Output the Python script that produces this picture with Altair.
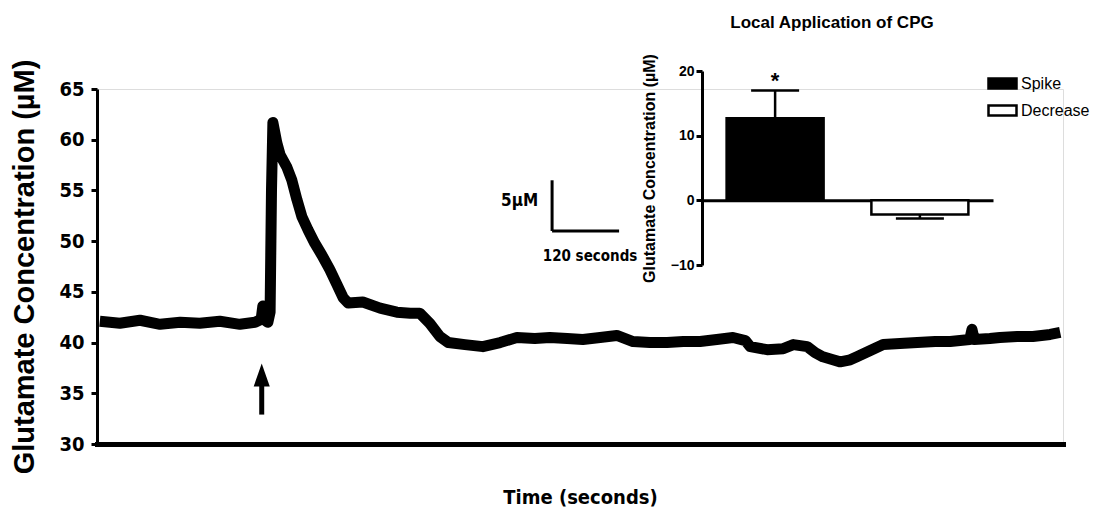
import altair as alt
import pandas as pd

NARROW = "DejaVu Sans Condensed, Liberation Sans Narrow, sans-serif"
REG = "Liberation Sans, Arial, sans-serif"

# Glutamate trace: time (s) and concentration (µM)
trace_t = [5, 41, 77, 113, 149, 184, 220, 256, 283, 294, 297, 301, 306, 310,
           312.5, 315, 322, 328, 340, 349, 358, 367, 378, 390, 403, 417, 430,
           441, 450, 476, 507, 537, 561, 578, 596, 614, 629, 659, 691, 722,
           752, 784, 811, 842, 870, 901, 931, 960, 990, 1021, 1050, 1080,
           1110, 1139, 1161, 1170, 1200, 1229, 1247, 1272, 1286, 1300, 1318,
           1331, 1349, 1361, 1384, 1408, 1438, 1469, 1501, 1528, 1563, 1567,
           1571, 1599, 1617, 1648, 1676, 1707, 1725]
trace_v = [42.1, 41.9, 42.2, 41.8, 42.0, 41.9, 42.1, 41.8, 42.0, 42.3, 43.6,
           42.2, 42.0, 43.0, 55.0, 61.7, 59.7, 58.5, 57.3, 56.0, 54.1, 52.4,
           51.1, 49.8, 48.6, 47.2, 45.7, 44.4, 43.9, 44.0, 43.4, 43.0, 42.9,
           42.9, 41.9, 40.6, 40.0, 39.8, 39.6, 40.0, 40.5, 40.4, 40.5, 40.4,
           40.3, 40.5, 40.7, 40.1, 40.0, 40.0, 40.1, 40.1, 40.3, 40.5, 40.2,
           39.6, 39.3, 39.4, 39.8, 39.6, 39.0, 38.6, 38.3, 38.1, 38.3, 38.6,
           39.2, 39.8, 39.9, 40.0, 40.1, 40.1, 40.3, 41.3, 40.3, 40.4, 40.5,
           40.6, 40.6, 40.8, 41.0]

# CPG application arrow (time, shaft bottom, shaft top, head centre)
arrow_t = [295]
arrow_base = [32.9]
arrow_neck = [36.0]
arrow_head = [36.8]

# Scale bar: 120 s by 5 µM
sbar_t = [815]
sbar_dt = [120]
sbar_v = [51.0]
sbar_dv = [5]

# Inset: change in glutamate after local application of CPG
inset_groups = ["Spike", "Decrease"]
inset_means = [12.7, -2.2]
inset_errs = [4.3, 0.6]

xs = alt.Scale(domain=[0, 1730], nice=False, zero=False)
ys = alt.Scale(domain=[30, 65], nice=False, zero=False)

trace_df = pd.DataFrame({"t": trace_t, "v": trace_v})
trace = alt.Chart(trace_df).mark_line(
    color="black", strokeWidth=11, strokeJoin="round", strokeCap="butt"
).encode(
    x=alt.X("t:Q", scale=xs, axis=alt.Axis(
        title="Time (seconds)", labels=False, ticks=False, grid=False,
        domainWidth=5, domainColor="black", domainCap="square",
        titleFont=NARROW, titleFontSize=20, titleFontWeight="bold",
        titleColor="black", titlePadding=43)),
    y=alt.Y("v:Q", scale=ys, axis=alt.Axis(
        values=[30, 35, 40, 45, 50, 55, 60, 65],
        title="Glutamate Concentration (µM)", grid=False,
        domainWidth=3, domainColor="black", tickWidth=3, tickColor="black",
        tickSize=6, labelFont=NARROW, labelFontSize=20,
        labelFontWeight="bold", labelColor="black", labelPadding=7,
        titleFont=REG, titleFontSize=29, titleFontWeight="bold",
        titleColor="black", titlePadding=19)),
)

arrow_df = pd.DataFrame({"t": arrow_t, "v": arrow_base, "v2": arrow_neck})
shaft = alt.Chart(arrow_df).mark_rule(color="black", strokeWidth=5).encode(
    x=alt.X("t:Q", scale=xs), y=alt.Y("v:Q", scale=ys), y2="v2:Q"
)
head_df = pd.DataFrame({"t": arrow_t, "v": arrow_head})
head = alt.Chart(head_df).mark_point(
    shape="M0,-1L0.7,1L-0.7,1Z", size=529, filled=True, color="black", opacity=1
).encode(x=alt.X("t:Q", scale=xs), y=alt.Y("v:Q", scale=ys))

sb_df = pd.DataFrame({
    "t": sbar_t, "t2": [a + b for a, b in zip(sbar_t, sbar_dt)],
    "v": sbar_v, "v2": [a + b for a, b in zip(sbar_v, sbar_dv)],
})
sb_vert = alt.Chart(sb_df).mark_rule(color="black", strokeWidth=3).encode(
    x=alt.X("t:Q", scale=xs), y=alt.Y("v:Q", scale=ys), y2="v2:Q"
)
sb_horz = alt.Chart(sb_df).mark_rule(color="black", strokeWidth=3).encode(
    x=alt.X("t:Q", scale=xs), x2="t2:Q", y=alt.Y("v:Q", scale=ys)
)
sb_lab_df = pd.DataFrame({"t": [790, 883], "v": [54.0, 48.5],
                          "label": ["5µM", "120 seconds"]})
sb_lab_v = alt.Chart(sb_lab_df.iloc[[0]]).mark_text(
    font=NARROW, fontSize=17, fontWeight="bold", color="black",
    align="right", baseline="middle"
).encode(x=alt.X("t:Q", scale=xs), y=alt.Y("v:Q", scale=ys), text="label:N")
sb_lab_h = alt.Chart(sb_lab_df.iloc[[1]]).mark_text(
    font=NARROW, fontSize=15, fontWeight="bold", color="black",
    align="center", baseline="middle"
).encode(x=alt.X("t:Q", scale=xs), y=alt.Y("v:Q", scale=ys), text="label:N")

main = alt.layer(trace, shaft, head, sb_vert, sb_horz, sb_lab_v, sb_lab_h)

# Inset bar chart
ixs = alt.Scale(domain=inset_groups, range=[605, 896],
                paddingInner=0.33, paddingOuter=0.17)
iys = alt.Scale(domain=[-10, 20], range=[176, -18], nice=False, zero=False)

inset_df = pd.DataFrame({
    "group": inset_groups,
    "mean": inset_means,
    "end": [m + (e if m >= 0 else -e) for m, e in zip(inset_means, inset_errs)],
})

bars = alt.Chart(inset_df).mark_bar(stroke="black", strokeWidth=2.5).encode(
    x=alt.X("group:N", scale=ixs, sort=inset_groups, axis=alt.Axis(
        orient="bottom", offset=-243.7, labels=False, ticks=False, title=None,
        domainWidth=3, domainColor="black")),
    y=alt.Y("mean:Q", scale=iys, axis=alt.Axis(
        orient="left", offset=-605, values=[-10, 0, 10, 20], grid=False,
        title="Glutamate Concentration (µM)",
        domainWidth=3, domainColor="black", tickWidth=3, tickColor="black",
        tickSize=6, labelFont=REG, labelFontSize=14, labelFontWeight="bold",
        labelColor="black", labelPadding=2,
        titleFont=REG, titleFontSize=16, titleFontWeight="bold",
        titleColor="black", titlePadding=13)),
    fill=alt.Fill("group:N", sort=inset_groups,
                  scale=alt.Scale(domain=inset_groups, range=["black", "white"]),
                  legend=alt.Legend(
                      title=None, orient="none", legendX=894, legendY=-17,
                      symbolType="M-1.4,-0.5H1.4V0.5H-1.4Z", symbolSize=400,
                      symbolStrokeColor="black", symbolStrokeWidth=2.5,
                      symbolOpacity=1, labelFont=REG, labelFontSize=16,
                      labelColor="black", rowPadding=5, labelOffset=7)),
)
err_rule = alt.Chart(inset_df).mark_rule(color="black", strokeWidth=2.5).encode(
    x=alt.X("group:N", scale=ixs, sort=inset_groups),
    y=alt.Y("mean:Q", scale=iys), y2="end:Q",
)
err_cap = alt.Chart(inset_df).mark_tick(
    color="black", size=48, thickness=2.5, opacity=1
).encode(
    x=alt.X("group:N", scale=ixs, sort=inset_groups),
    y=alt.Y("end:Q", scale=iys),
)
star = alt.Chart(inset_df.iloc[[0]]).mark_text(
    text="*", font=REG, fontSize=22, fontWeight="bold", color="black",
    baseline="alphabetic", dy=-2
).encode(
    x=alt.X("group:N", scale=ixs, sort=inset_groups),
    y=alt.Y("end:Q", scale=iys),
)

inset = alt.layer(bars, err_rule, err_cap, star)

chart = alt.layer(main, inset).resolve_scale(
    x="independent", y="independent"
).properties(
    width=966, height=355,
    padding={"left": 97, "top": 89, "right": 37, "bottom": 70},
    autosize="none",
    title=alt.TitleParams(
        "Local Application of CPG", anchor="start", align="center", dx=735,
        frame="group", baseline="bottom", offset=5, fontSize=17, font=REG,
        fontWeight="bold", color="black"),
).configure_view(stroke=None).configure(background="white")

chart.save("out.html", embed_options={"renderer": "svg", "actions": False})
